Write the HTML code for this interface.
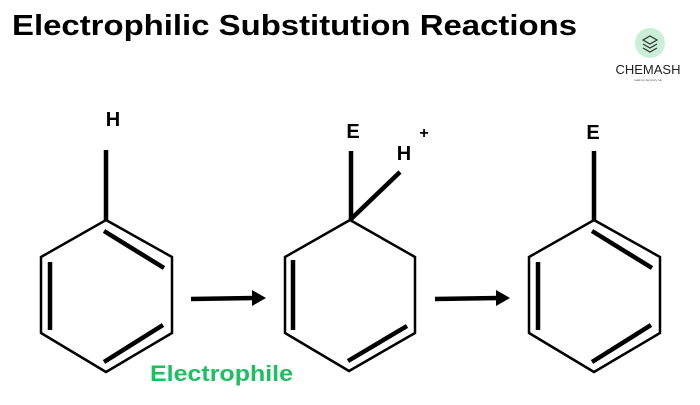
<!DOCTYPE html>
<html><head><style>
body{margin:0;width:700px;height:400px;background:#fff;overflow:hidden;font-family:"Liberation Sans",sans-serif}
</style></head><body>
<svg width="700" height="400" viewBox="0 0 700 400" xmlns="http://www.w3.org/2000/svg">
<text x="12" y="35" font-family="Liberation Sans" font-weight="bold" font-size="29" fill="#000" textLength="565" lengthAdjust="spacingAndGlyphs">Electrophilic Substitution Reactions</text>
<circle cx="650" cy="43" r="15" fill="#c9efd6"/>
<g stroke="#333" stroke-width="1.2" fill="none">
<path d="M643 40 l7 -4 l7 4 l-7 4z"/><path d="M643 44 l7 4 l7 -4"/><path d="M643 48 l7 4 l7 -4"/>
</g>
<text x="648" y="74" text-anchor="middle" font-size="13" fill="#222">CHEMASH</text>
<text x="648" y="81" text-anchor="middle" font-size="3" fill="#555">making chemistry fun</text>
<g stroke="#000" fill="none" stroke-linecap="butt">
<g stroke-width="2.5">
<polygon points="106,220 172,257 172,333 106,372 41,333 41,257"/>
<polygon points="350,220 415,257 415,333 349,371 285,333 285,257"/>
<polygon points="594,220 660,257 660,333 594,372 529,333 529,257"/>
</g>
<g stroke-width="4.5">
<line x1="106" y1="150" x2="106" y2="220"/>
<line x1="50" y1="262" x2="50" y2="330"/>
<line x1="104" y1="231" x2="164" y2="268"/>
<line x1="163" y1="325" x2="104" y2="362"/>
<line x1="351" y1="151" x2="351" y2="220"/>
<line x1="350" y1="220" x2="400" y2="172"/>
<line x1="293" y1="260" x2="293" y2="330"/>
<line x1="407" y1="326" x2="348" y2="361"/>
<line x1="594" y1="151" x2="594" y2="220"/>
<line x1="538" y1="262" x2="538" y2="330"/>
<line x1="592" y1="231" x2="652" y2="268"/>
<line x1="651" y1="325" x2="592" y2="362"/>
<line x1="191" y1="299" x2="254" y2="298"/>
<line x1="435" y1="299" x2="498" y2="298"/>
</g>
</g>
<polygon points="252,290 266,298 252,306" fill="#000"/>
<polygon points="496,290 510,298 496,306" fill="#000"/>
<g font-family="Liberation Sans" font-weight="bold" font-size="20" fill="#000" text-anchor="middle">
<text x="113" y="126">H</text>
<text x="353" y="138">E</text>
<text x="404" y="160">H</text>
<text x="424" y="138" font-size="16">+</text>
<text x="593" y="139">E</text>
</g>
<text x="150" y="381" font-family="Liberation Sans" font-weight="bold" font-size="22" fill="#1dbf5e" textLength="143" lengthAdjust="spacingAndGlyphs">Electrophile</text>
</svg>
</body></html>
